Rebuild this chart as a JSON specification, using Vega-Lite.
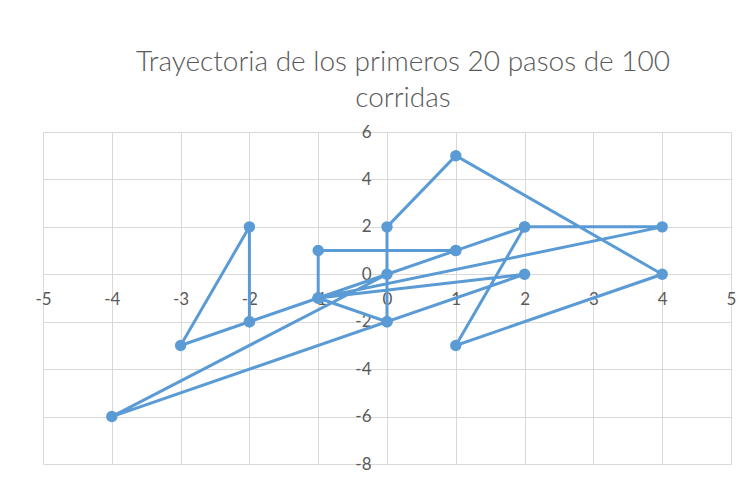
{
  "$schema": "https://vega.github.io/schema/vega-lite/v6.json",
  "width": 688,
  "height": 332,
  "autosize": "none",
  "padding": {"left": 43, "top": 132, "right": 16, "bottom": 16},
  "background": "white",
  "title": {
    "text": ["Trayectoria de los primeros 20 pasos de 100", "corridas"],
    "font": "Lato",
    "fontSize": 28,
    "fontWeight": 300,
    "color": "#595959",
    "anchor": "middle",
    "dx": 16,
    "offset": 10,
    "lineHeight": 36
  },
  "data": {
    "values": [
      {"i": 1, "x": 2, "y": 2},
      {"i": 2, "x": 1, "y": 1},
      {"i": 3, "x": -1, "y": 1},
      {"i": 4, "x": -1, "y": -1},
      {"i": 5, "x": 4, "y": 2},
      {"i": 6, "x": 2, "y": 2},
      {"i": 7, "x": 1, "y": -3},
      {"i": 8, "x": 4, "y": 0},
      {"i": 9, "x": 1, "y": 5},
      {"i": 10, "x": 0, "y": 2},
      {"i": 11, "x": 0, "y": -2},
      {"i": 12, "x": 2, "y": 0},
      {"i": 13, "x": -1, "y": -1},
      {"i": 14, "x": 0, "y": -2},
      {"i": 15, "x": -4, "y": -6},
      {"i": 16, "x": 0, "y": 0},
      {"i": 17, "x": 1, "y": 1},
      {"i": 18, "x": -1, "y": -1},
      {"i": 19, "x": -2, "y": -2},
      {"i": 20, "x": -3, "y": -3},
      {"i": 21, "x": -2, "y": 2},
      {"i": 22, "x": -2, "y": -2}
    ]
  },
  "encoding": {
    "x": {
      "field": "x",
      "type": "quantitative",
      "scale": {"domain": [-5, 5], "nice": false, "zero": false},
      "axis": {
        "title": null,
        "values": [-5, -4, -3, -2, -1, 0, 1, 2, 3, 4, 5],
        "labelExpr": "'' + datum.value",
        "grid": true,
        "gridColor": "#d9d9d9",
        "gridWidth": 1,
        "domain": false,
        "ticks": false,
        "labelFont": "Lato",
        "labelFontSize": 17,
        "labelColor": "#595959",
        "labelPadding": 17,
        "labelFlush": false,
        "labelOverlap": false,
        "offset": -189.7
      }
    },
    "y": {
      "field": "y",
      "type": "quantitative",
      "scale": {"domain": [-8, 6], "nice": false, "zero": false},
      "axis": {
        "title": null,
        "values": [-8, -6, -4, -2, 0, 2, 4, 6],
        "labelExpr": "'' + datum.value",
        "grid": true,
        "gridColor": "#d9d9d9",
        "gridWidth": 1,
        "domain": false,
        "ticks": false,
        "labelFont": "Lato",
        "labelFontSize": 17,
        "labelColor": "#595959",
        "labelPadding": 16,
        "labelFlush": false,
        "labelOverlap": false,
        "offset": -344
      }
    }
  },
  "layer": [
    {
      "mark": {"type": "line", "color": "#5B9BD5", "strokeWidth": 3},
      "encoding": {"order": {"field": "i", "type": "quantitative"}}
    },
    {
      "mark": {"type": "circle", "color": "#5B9BD5", "size": 130, "opacity": 1}
    }
  ],
  "config": {"view": {"stroke": null}}
}
